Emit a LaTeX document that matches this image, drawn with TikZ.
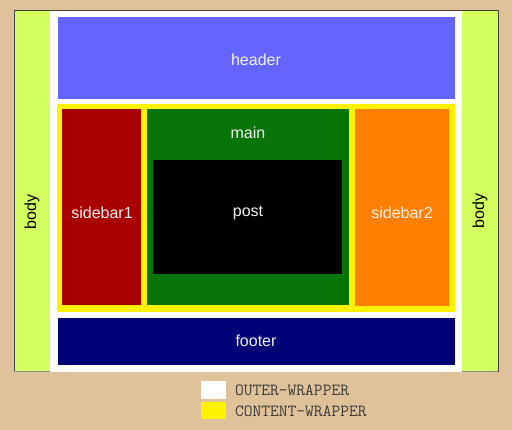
\documentclass[tikz,border=0pt]{standalone}
\usepackage{fontspec}
\setmainfont{Liberation Sans}
\definecolor{tan}{HTML}{E0C29A}
\definecolor{lime}{HTML}{D4FF60}
\definecolor{headerc}{HTML}{6464FF}
\definecolor{side1}{HTML}{A80000}
\definecolor{mainc}{HTML}{087508}
\definecolor{side2}{HTML}{FF8000}
\definecolor{footc}{HTML}{000077}
\definecolor{labc}{HTML}{F2F2F2}
\definecolor{legc}{HTML}{3A3A3A}
\begin{document}
\begin{tikzpicture}[x=1pt,y=-1pt,
  lab/.style={text=labc, font=\fontsize{16}{19}\selectfont, inner sep=0pt},
  bodylab/.style={text=black, font=\fontsize{16}{19}\selectfont, inner sep=0pt, rotate=90},
  legtext/.style={text=legc, font=\ttfamily\fontsize{17}{20}\selectfont, anchor=west, inner sep=0pt}]
\fill[tan] (0,0) rectangle (512,430);
\useasboundingbox (0,0) rectangle (512,430);
% body
\fill[lime] (14,11) rectangle (498,372);
\draw[black!75, line width=1pt] (14,372) -- (14,11) -- (498,11) -- (498,372);
\draw[black!45, line width=1pt] (14,372) -- (498,372);
% outer wrapper
\fill[white] (50,11) rectangle (462,372);
% header
\fill[headerc] (58,17) rectangle (455,99);
% content wrapper
\fill[yellow] (57,104) rectangle (455,312);
\fill[side1] (62,109) rectangle (141,305);
\fill[mainc] (147,109) rectangle (349,305);
\fill[side2] (355,109) rectangle (449,306);
\fill[black] (153,160) rectangle (342,274);
% footer
\fill[footc] (58,318) rectangle (455,365);
% labels
\node[lab] (header) at (256,60) {header};
\node[lab] (main) at (248,133) {main};
\node[lab] (post) at (248,213) {post};
\node[lab] (sidebar1) at (102,213) {sidebar1};
\node[lab] (sidebar2) at (402,213) {sidebar2};
\node[lab] (footer) at (256,341) {footer};
\node[bodylab] (bodyl) at (32,212) {body};
\node[bodylab] (bodyr) at (480,211) {body};
% legend
\fill[white] (201,381) rectangle (226,399);
\fill[yellow] (201,402) rectangle (226,419);
\node[legtext] (outer) at (235,390) {OUTER-WRAPPER};
\node[legtext] (content) at (235,411) {CONTENT-WRAPPER};
\end{tikzpicture}
\end{document}
